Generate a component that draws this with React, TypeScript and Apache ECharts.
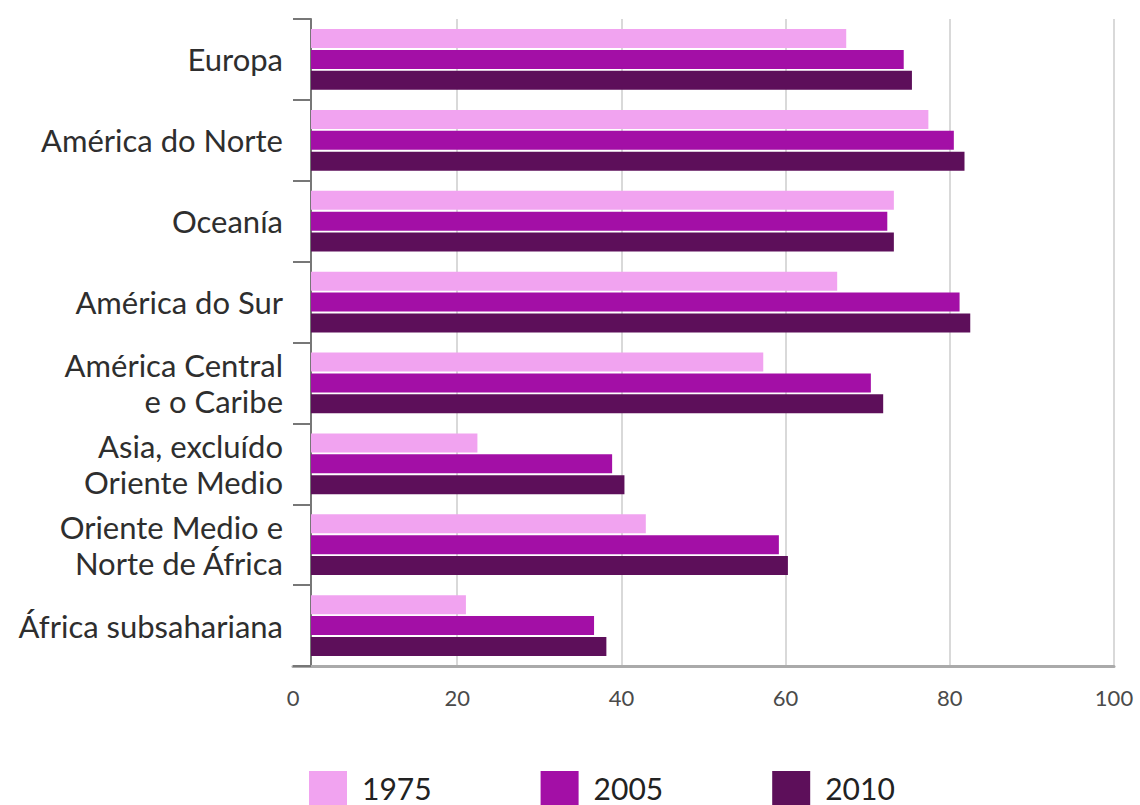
import React, { useEffect, useRef } from "react";
import * as echarts from "echarts";

const categories = [
  "Europa",
  "América do Norte",
  "Oceanía",
  "América do Sur",
  "América Central\ne o Caribe",
  "Asia, excluído\nOriente Medio",
  "Oriente Medio e\nNorte de África",
  "África subsahariana",
];
const years = ["1975", "2005", "2010"];
const values1975 = [67.4, 77.4, 73.2, 66.3, 57.3, 22.5, 43.0, 21.1];
const values2005 = [74.4, 80.5, 72.4, 81.2, 70.4, 38.9, 59.2, 36.7];
const values2010 = [75.4, 81.8, 73.2, 82.5, 71.9, 40.4, 60.3, 38.2];
const xTicks = { min: 0, max: 100, interval: 20 };
const colors = ["#F1A3F0", "#A30FA6", "#5D0F5A"];

export default function App() {
  const ref = useRef<HTMLDivElement>(null);
  useEffect(() => {
    if (!ref.current) return;
    const chart = echarts.init(ref.current, null, { renderer: "svg" });
    const font = "Lato, 'DejaVu Sans', sans-serif";
    const seriesData = [values1975, values2005, values2010];
    chart.setOption({
      animation: false,
      backgroundColor: "#ffffff",
      textStyle: { fontFamily: font },
      grid: [
        { left: 293, top: 19, width: 821, height: 647 },
        { left: 311, top: 19, width: 803, height: 647 },
      ],
      legend: {
        left: 304,
        top: 766,
        padding: 5,
        icon: "rect",
        itemWidth: 38,
        itemHeight: 34,
        itemGap: 109,
        data: years,
        textStyle: {
          fontSize: 30,
          lineHeight: 30,
          color: "#222",
          fontFamily: font,
          padding: [0, 0, 0, 10],
        },
      },
      xAxis: [
        {
          gridIndex: 0,
          type: "value",
          min: xTicks.min,
          max: xTicks.max,
          interval: xTicks.interval,
          axisLine: { show: true, lineStyle: { color: "#aaaaaa", width: 3 } },
          axisTick: { show: false },
          axisLabel: { fontSize: 22, color: "#4a4a4a", margin: 20, fontFamily: font },
          splitLine: { show: true, showMinLine: false, lineStyle: { color: "#cccccc", width: 1.5 } },
        },
        {
          gridIndex: 1,
          type: "value",
          min: 2.24,
          max: 100,
          show: false,
          splitLine: { show: false },
        },
      ],
      yAxis: [
        { gridIndex: 0, type: "value", show: false, splitLine: { show: false } },
        {
          gridIndex: 1,
          type: "category",
          inverse: true,
          data: categories,
          axisLine: { show: true, lineStyle: { color: "#777777", width: 2 } },
          axisTick: { show: true, length: 18, lineStyle: { color: "#777777", width: 2 } },
          axisLabel: {
            fontSize: 31,
            color: "#2e2e2e",
            margin: 28,
            lineHeight: 36,
            fontFamily: font,
          },
        },
      ],
      series: years.map((y, i) => ({
        name: y,
        type: "bar",
        xAxisIndex: 1,
        yAxisIndex: 1,
        data: seriesData[i],
        barCategoryGap: "25%",
        barGap: "10%",
        itemStyle: { color: colors[i] },
      })),
    });
    return () => chart.dispose();
  }, []);
  return (
    <div
      ref={ref}
      style={{ position: "fixed", left: 0, top: 0, width: 1140, height: 805 }}
    />
  );
}
